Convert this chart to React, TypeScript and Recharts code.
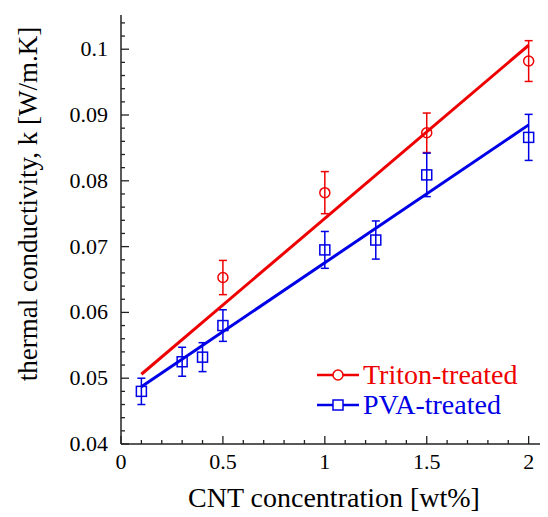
import React from "react";
import { ComposedChart, Scatter, XAxis, YAxis, ErrorBar } from "recharts";

// ---- data ----
const seriesNames = ["Triton-treated", "PVA-treated"];

const tritonX = [0.5, 1, 1.5, 2];
const tritonY = [0.0653, 0.0782, 0.0873, 0.0982];
const tritonErr = [0.0026, 0.0032, 0.003, 0.0031];

const pvaX = [0.1, 0.3, 0.4, 0.5, 1, 1.25, 1.5, 2];
const pvaY = [0.048, 0.0525, 0.0532, 0.058, 0.0695, 0.071, 0.0809, 0.0866];
const pvaErr = [0.002, 0.0022, 0.0022, 0.0024, 0.0028, 0.0029, 0.0033, 0.0035];

const tritonFitX = [0.1, 2];
const tritonFitY = [0.0506, 0.1006];
const pvaFitX = [0.1, 2];
const pvaFitY = [0.0487, 0.0885];

const xMajorTicks = [0, 0.5, 1, 1.5, 2];
const xTickLabels = ["0", "0.5", "1", "1.5", "2"];
const xAllTicks = [0, 0.1, 0.2, 0.3, 0.4, 0.5, 0.6, 0.7, 0.8, 0.9, 1, 1.1, 1.2, 1.3, 1.4, 1.5, 1.6, 1.7, 1.8, 1.9, 2];
const yMajorTicks = [0.04, 0.05, 0.06, 0.07, 0.08, 0.09, 0.1];
const yTickLabels = ["0.04", "0.05", "0.06", "0.07", "0.08", "0.09", "0.1"];
const yAllTicks = [
  0.04, 0.042, 0.044, 0.046, 0.048, 0.05, 0.052, 0.054, 0.056, 0.058, 0.06, 0.062, 0.064, 0.066,
  0.068, 0.07, 0.072, 0.074, 0.076, 0.078, 0.08, 0.082, 0.084, 0.086, 0.088, 0.09, 0.092, 0.094,
  0.096, 0.098, 0.1, 0.102, 0.104,
];

const xTitle = "CNT concentration [wt%]";
const yTitle = "thermal conductivity, k [W/m.K]";

const tritonData = tritonX.map((x, i) => ({ x, y: tritonY[i], err: tritonErr[i] }));
const pvaData = pvaX.map((x, i) => ({ x, y: pvaY[i], err: pvaErr[i] }));
const tritonFit = tritonFitX.map((x, i) => ({ x, y: tritonFitY[i] }));
const pvaFit = pvaFitX.map((x, i) => ({ x, y: pvaFitY[i] }));

// ---- style ----
const RED = "#ee0000";
const BLUE = "#0000e6";
const AXIS = "#222";
const FONT = "Liberation Serif, DejaVu Serif, Times New Roman, serif";
const MAJOR = 8;
const MINOR = 4;

const majorIndex = (v: number, arr: number[]) => arr.findIndex((m) => Math.abs(m - v) < 1e-9);

const BottomTick = (p: any) => {
  const { x, y, payload } = p;
  const idx = majorIndex(payload.value, xMajorTicks);
  return (
    <g>
      <line x1={x} y1={y} x2={x} y2={y - (idx >= 0 ? MAJOR : MINOR)} stroke={AXIS} strokeWidth={1.3} />
      {idx >= 0 && (
        <text x={x} y={y + 25} textAnchor="middle" fontSize={22} style={{ fontFamily: FONT }} fill="#000">
          {xTickLabels[idx]}
        </text>
      )}
    </g>
  );
};

const TopTick = (p: any) => {
  const { x, y, payload } = p;
  const idx = majorIndex(payload.value, xMajorTicks);
  return <line x1={x} y1={y} x2={x} y2={y + (idx >= 0 ? MAJOR : MINOR)} stroke={AXIS} strokeWidth={1.3} />;
};

const LeftTick = (p: any) => {
  const { x, y, payload } = p;
  const idx = majorIndex(payload.value, yMajorTicks);
  return (
    <g>
      <line x1={x} y1={y} x2={x + (idx >= 0 ? MAJOR : MINOR)} y2={y} stroke={AXIS} strokeWidth={1.3} />
      {idx >= 0 && (
        <text x={x - 13} y={y + 7} textAnchor="end" fontSize={22} style={{ fontFamily: FONT }} fill="#000">
          {yTickLabels[idx]}
        </text>
      )}
    </g>
  );
};

const RightTick = (p: any) => {
  const { x, y, payload } = p;
  const idx = majorIndex(payload.value, yMajorTicks);
  return <line x1={x} y1={y} x2={x - (idx >= 0 ? MAJOR : MINOR)} y2={y} stroke={AXIS} strokeWidth={1.3} />;
};

const CircleShape = (p: any) => (
  <circle cx={p.cx} cy={p.cy} r={5} fill="none" stroke={RED} strokeWidth={1.5} />
);
const SquareShape = (p: any) => (
  <rect x={p.cx - 5} y={p.cy - 5} width={10} height={10} fill="none" stroke={BLUE} strokeWidth={1.5} />
);
const NoShape = () => <g />;

const XTitle = (p: any) => {
  const vb = p.viewBox;
  return (
    <text x={vb.x + vb.width / 2} y={vb.y + 63} textAnchor="middle" fontSize={28} style={{ fontFamily: FONT }} fill="#000">
      {xTitle}
    </text>
  );
};

const YTitle = (p: any) => {
  const vb = p.viewBox;
  const cx = vb.x + 29;
  const cy = vb.y + 189;
  return (
    <text x={cx} y={cy} transform={`rotate(-90, ${cx}, ${cy})`} textAnchor="middle" fontSize={27} style={{ fontFamily: FONT }} fill="#000">
      {yTitle}
    </text>
  );
};

const LegendRow = ({ color, name, square }: { color: string; name: string; square: boolean }) => (
  <div style={{ display: "flex", alignItems: "center", height: 30 }}>
    <svg width={46} height={30} style={{ display: "block" }}>
      <line x1={0} y1={15} x2={42} y2={15} stroke={color} strokeWidth={2.5} />
      {square ? (
        <rect x={16} y={10} width={10} height={10} fill="#fff" stroke={color} strokeWidth={1.5} />
      ) : (
        <circle cx={21} cy={15} r={5} fill="#fff" stroke={color} strokeWidth={1.5} />
      )}
    </svg>
    <span style={{ color, fontFamily: FONT, fontSize: 28, lineHeight: "30px", whiteSpace: "nowrap" }}>{name}</span>
  </div>
);

export default function App() {
  return (
    <div style={{ position: "relative", width: 540, height: 505, fontFamily: FONT }}>
      <ComposedChart
        width={540}
        height={505}
        margin={{ top: 7, right: 1, bottom: 0, left: 0 }}
        style={{ fontFamily: FONT }}
      >
        <XAxis
          xAxisId="main"
          dataKey="x"
          type="number"
          domain={[0, 2.09]}
          ticks={xAllTicks}
          interval={0}
          height={69}
          tickSize={0}
          tickMargin={0}
          tickLine={false}
          tick={BottomTick}
          axisLine={{ stroke: AXIS, strokeWidth: 1.5 }}
          label={{ content: XTitle }}
          allowDataOverflow
        />
        <XAxis
          xAxisId="top"
          orientation="top"
          dataKey="x"
          type="number"
          domain={[0, 2.09]}
          ticks={xAllTicks}
          interval={0}
          height={0}
          tickSize={0}
          tickMargin={0}
          tickLine={false}
          tick={TopTick}
          axisLine={{ stroke: AXIS, strokeWidth: 1.5 }}
          allowDataOverflow
        />
        <YAxis
          yAxisId="main"
          dataKey="y"
          type="number"
          domain={[0.04, 0.1052]}
          ticks={yAllTicks}
          interval={0}
          width={113}
          tickSize={0}
          tickMargin={0}
          tickLine={false}
          tick={LeftTick}
          axisLine={{ stroke: AXIS, strokeWidth: 1.5 }}
          label={{ content: YTitle }}
          allowDataOverflow
        />
        <YAxis
          yAxisId="right"
          orientation="right"
          dataKey="y"
          type="number"
          domain={[0.04, 0.1052]}
          ticks={yAllTicks}
          interval={0}
          width={0}
          tickSize={0}
          tickMargin={0}
          tickLine={false}
          tick={RightTick}
          axisLine={{ stroke: AXIS, strokeWidth: 1.5 }}
          allowDataOverflow
        />

        <Scatter
          name="Triton fit"
          data={tritonFit}
          xAxisId="main"
          yAxisId="main"
          line={{ stroke: RED, strokeWidth: 3 }}
          shape={NoShape}
          isAnimationActive={false}
        />
        <Scatter
          name="PVA fit"
          data={pvaFit}
          xAxisId="top"
          yAxisId="right"
          line={{ stroke: BLUE, strokeWidth: 3 }}
          shape={NoShape}
          isAnimationActive={false}
        />
        <Scatter
          name={seriesNames[0]}
          data={tritonData}
          xAxisId="main"
          yAxisId="main"
          shape={CircleShape}
          isAnimationActive={false}
        >
          <ErrorBar dataKey="err" direction="y" width={4} stroke={RED} strokeWidth={1.5} isAnimationActive={false} />
        </Scatter>
        <Scatter
          name={seriesNames[1]}
          data={pvaData}
          xAxisId="main"
          yAxisId="main"
          shape={SquareShape}
          isAnimationActive={false}
        >
          <ErrorBar dataKey="err" direction="y" width={4} stroke={BLUE} strokeWidth={1.5} isAnimationActive={false} />
        </Scatter>
      </ComposedChart>
      <div style={{ position: "absolute", left: 309, top: 352 }}>
        <LegendRow color={RED} name={seriesNames[0]} square={false} />
        <LegendRow color={BLUE} name={seriesNames[1]} square={true} />
      </div>
    </div>
  );
}
